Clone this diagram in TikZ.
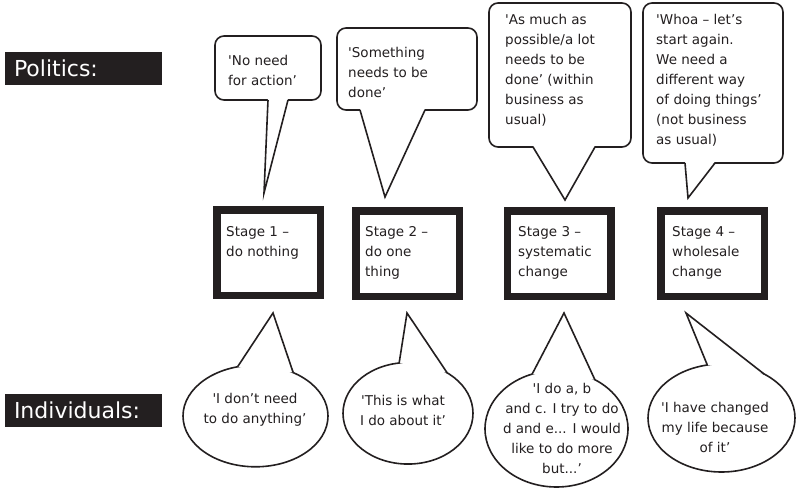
\documentclass[tikz,border=0pt]{standalone}
\usepackage{fontspec}
\setmainfont{DejaVu Sans}
\usetikzlibrary{shapes.geometric,calc}
\definecolor{ink}{HTML}{231F20}
\begin{document}
\begin{tikzpicture}[x=1pt,y=-1pt,
  font=\fontsize{13.5}{20}\selectfont,
  lbl/.style={fill=ink,text=white,font=\fontsize{22}{24}\selectfont,
    minimum height=33pt,text width=139pt,inner xsep=9pt,inner ysep=0pt,align=left},
  stagebox/.style={draw=ink,line width=7.5pt,minimum width=103.5pt,
    minimum height=85.5pt,inner sep=0pt,outer sep=0pt},
  say/.style={anchor=north west,inner sep=0pt,align=left,text=ink},
  said/.style={inner sep=0pt,align=center,text=ink},
  cloud/.style={draw=ink,line width=1.6pt,fill=white,rounded corners=9pt,
    inner sep=0pt,outer sep=0pt},
  thought/.style={ellipse,draw=ink,line width=1.6pt,fill=white,
    inner sep=0pt,outer sep=0pt},
  tail/.style={draw=ink,line width=1.6pt,line join=miter},
]
\useasboundingbox (0,0) rectangle (797,489);

% row labels
\node[lbl] (pol) at (83.5,68.5) {Politics:};
\node[lbl] (ind) at (83.5,410) {Individuals:};

% the four stages
\node[stagebox] (s1) at (268.5,252.5) {};
\node[stagebox] (s2) at (407.5,253.5) {};
\node[stagebox] (s3) at (559,253.5) {};
\node[stagebox] (s4) at (712.5,253.5) {};
\node[say] (s1t) at (226,226) {Stage 1 –\\do nothing};
\node[say] (s2t) at (365,226) {Stage 2 –\\do one\\thing};
\node[say] (s3t) at (518,226) {Stage 3 –\\systematic\\change};
\node[say] (s4t) at (672,226) {Stage 4 –\\wholesale\\change};

% political speech bubbles
\node[cloud,minimum width=106pt,minimum height=64pt] (q1) at (268,68) {};
\node[cloud,minimum width=140pt,minimum height=82pt] (q2) at (407,69) {};
\node[cloud,minimum width=142pt,minimum height=144pt] (q3) at (560,75) {};
\node[cloud,minimum width=140pt,minimum height=160pt] (q4) at (713,83) {};

\coordinate (q1tip) at (264,193);
\coordinate (q2tip) at (385,197);
\coordinate (q3tip) at (565,200);
\coordinate (q4tip) at (688,198);
\coordinate (q1l) at ($(q1.south west)+(53,0)$);
\coordinate (q1r) at ($(q1.south west)+(73,0)$);
\coordinate (q2l) at ($(q2.south west)+(23,0)$);
\coordinate (q2r) at ($(q2.south west)+(88,0)$);
\coordinate (q3l) at ($(q3.south west)+(44,0)$);
\coordinate (q3r) at ($(q3.south west)+(106,0)$);
\coordinate (q4l) at ($(q4.south west)+(42,0)$);
\coordinate (q4r) at ($(q4.south west)+(72,0)$);
\foreach \q in {q1,q2,q3,q4}{
  \fill[white] ($(\q l)+(0,-1.5)$) -- (\q tip) -- ($(\q r)+(0,-1.5)$) -- cycle;
  \draw[tail] (\q l) -- (\q tip) -- (\q r);
}

\node[say] (q1t) at (228,55) {\textquotesingle No need\\for action’};
\node[say] (q2t) at (348,47) {\textquotesingle Something\\needs to be\\done’};
\node[say] (q3t) at (505,14) {\textquotesingle As much as\\possible/a lot\\needs to be\\done’ (within\\business as\\usual)};
\node[say] (q4t) at (656,14) {\textquotesingle Whoa – let’s\\start again.\\We need a\\different way\\of doing things’\\(not business\\as usual)};

% individual thought bubbles
\node[thought,minimum width=145pt,minimum height=101.6pt] (e1) at (255.5,416) {};
\node[thought,minimum width=130pt,minimum height=101.5pt] (e2) at (408,413.3) {};
\node[thought,minimum width=143pt,minimum height=116.4pt] (e3) at (556.5,428.8) {};
\node[thought,minimum width=147pt,minimum height=108pt] (e4) at (721.5,418) {};

\coordinate (e1tip) at (273,313);
\coordinate (e2tip) at (407,313);
\coordinate (e3tip) at (564,313);
\coordinate (e4tip) at (686,313);
\foreach \e/\a/\b in {e1/110.7/49.2,e2/100.1/46,e3/114.1/52.8,e4/105.3/46.7}{
  \fill[white] (\e.\a) -- (\e tip) -- (\e.\b) -- cycle;
  \draw[tail] (\e.\a) -- (\e tip) -- (\e.\b);
}

\node[said] (e1t) at (255,410) {\textquotesingle I don’t need\\to do anything’};
\node[said] (e2t) at (403,410) {\textquotesingle This is what\\I do about it’};
\node[said] (e3t) at (562,428) {\textquotesingle I do a, b\\and c. I try to do\\d and e... I would\\like to do more\\but...’};
\node[said] (e4t) at (715,427) {\textquotesingle I have changed\\my life because\\of it’};
\end{tikzpicture}
\end{document}
